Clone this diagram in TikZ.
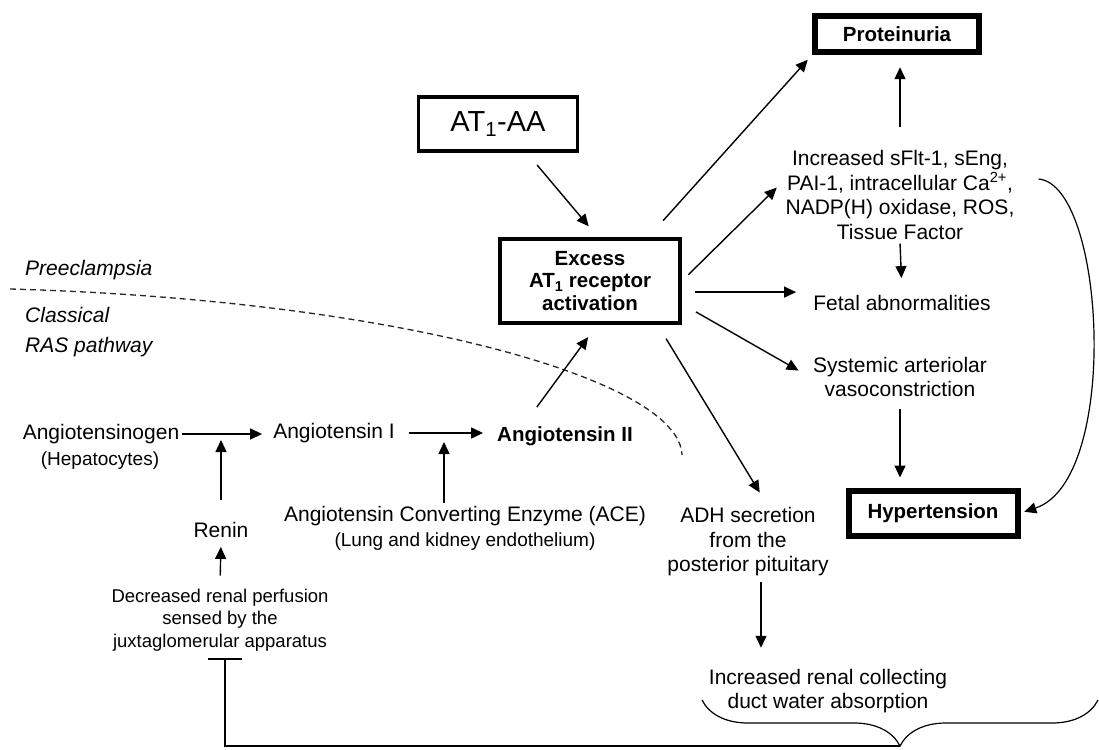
\documentclass[tikz,border=0pt]{standalone}
\usepackage{fontspec}
\setmainfont{Liberation Sans}
\usetikzlibrary{arrows.meta,decorations.pathreplacing}

\tikzstyle{box} = [rectangle, draw=black, align=center, font=\bfseries\fontsize{20.5}{22.5}\selectfont]
\tikzstyle{txt} = [align=center, inner sep=3pt, font=\fontsize{21}{24.5}\selectfont]
\tikzstyle{smalltxt} = [align=center, inner sep=3pt, font=\fontsize{19}{22.5}\selectfont]
\tikzstyle{note} = [anchor=west, align=left, inner sep=0pt, font=\itshape\fontsize{21}{30}\selectfont]
\tikzstyle{arrow} = [line width=1.4pt, -{Triangle[length=12pt, width=11pt]}]
\tikzstyle{inhibit} = [line width=1.4pt, -{Bar[width=34pt]}]
\tikzstyle{divider} = [line width=1.3pt, dash pattern=on 6pt off 4pt, black!85]

\begin{document}
\begin{tikzpicture}[x=1pt, y=-1pt]
  \useasboundingbox (0,0) rectangle (1099,749);

  % boxes
  \node (AT1-AA) [box, line width=3.5pt, minimum width=159pt, minimum height=54pt, font=\fontsize{29}{32}\selectfont] at (498,124) {AT\textsubscript{1}-AA};
  \node (Excess Activation) [box, line width=4pt, minimum width=180pt, minimum height=84pt] at (590,281) {Excess\\AT\textsubscript{1} receptor\\activation};
  \node (Proteinuria) [box, line width=6.5pt, minimum width=164pt, minimum height=36pt] at (897,34) {Proteinuria};
  \node (Hypertension) [box, line width=6pt, minimum width=169pt, minimum height=45pt] at (933,513) {Hypertension};

  % preeclampsia effects
  \node (Increased Factors) [txt] at (900,195) {Increased sFlt-1, sEng,\\PAI-1, intracellular Ca\textsuperscript{2+},\\NADP(H) oxidase, ROS,\\Tissue Factor};
  \node (Fetal Abnormalities) [txt] at (902,303) {Fetal abnormalities};
  \node (Vasoconstriction) [txt] at (900,377) {Systemic arteriolar\\vasoconstriction};
  \node (ADH Secretion) [txt] at (748,542) {ADH secretion\\from the\\posterior pituitary};
  \node (Water Absorption) [txt] at (828,691) {Increased renal collecting\\duct water absorption};

  % classical RAS pathway
  \node (Angiotensinogen) [txt] at (101,434) {Angiotensinogen};
  \node (Hepatocytes) [smalltxt] at (100,461) {(Hepatocytes)};
  \node (Angiotensin I) [txt] at (334,433) {Angiotensin I};
  \node (Angiotensin II) [txt, font=\bfseries\fontsize{20.5}{24.5}\selectfont] at (565,436) {Angiotensin II};
  \node (ACE) [txt] at (465,516) {Angiotensin Converting Enzyme (ACE)};
  \node (Endothelium) [smalltxt] at (465,542) {(Lung and kidney endothelium)};
  \node (Renin) [txt] at (221,530) {Renin};
  \node (Renal Perfusion) [smalltxt, font=\fontsize{18.5}{22.5}\selectfont] at (220,620) {Decreased renal perfusion\\sensed by the\\juxtaglomerular apparatus};

  \node (Preeclampsia) [note] at (25,270) {Preeclampsia};
  \node (Classical RAS) [note] at (25,332) {Classical\\RAS pathway};

  \coordinate (Dash Start) at (10,289);
  \coordinate (Dash End) at (682,455);
  \coordinate (Brace Left) at (702,700);
  \coordinate (Brace Right) at (1098,700);
  \coordinate (Brace Tip) at (900,746);

  \draw [divider] (Dash Start) .. controls (400,300) and (680,380) .. (Dash End);

  % arrows
  \draw [arrow, shorten <=16pt, shorten >=14pt] (AT1-AA.-45) -- (Excess Activation.80);
  \draw [arrow, shorten <=22pt, shorten >=6pt] (Excess Activation.37) -- (Proteinuria.south west);
  \draw [arrow, shorten <=20pt, shorten >=12pt] (Increased Factors.north) -- (Increased Factors.north |- Proteinuria.south);
  \draw [arrow, shorten <=9pt, shorten >=8pt] (Excess Activation.east) -- ([yshift=13pt]Increased Factors.west);
  \draw [arrow, shorten <=1pt, shorten >=14pt] (Increased Factors.south) -- (Fetal Abnormalities.north);
  \draw [arrow, shorten <=13pt, shorten >=14pt] (Excess Activation.east |- Fetal Abnormalities.north west) -- (Fetal Abnormalities.north west);
  \draw [arrow, shorten <=16pt, shorten >=13pt] (Excess Activation.-14) -- (Vasoconstriction.west);
  \draw [arrow, shorten <=9pt, shorten >=10pt] (Vasoconstriction.south) -- (Vasoconstriction.south |- Hypertension.north);
  \draw [arrow, line width=1.2pt, shorten >=4pt] ([xshift=21pt,yshift=16pt]Increased Factors.east) .. controls +(67,6) and +(100,-33) .. (Hypertension.east);
  \draw [arrow, shorten <=16pt, shorten >=14pt] (Excess Activation.-33) -- ([xshift=19pt]ADH Secretion.north);
  \draw [arrow, shorten <=3pt, shorten >=18pt] ([xshift=13pt]ADH Secretion.south) -- ([xshift=13pt]ADH Secretion.south |- Water Absorption.north);

  \draw [arrow, shorten >=8pt] (Angiotensinogen.east) -- (Angiotensinogen.east -| Angiotensin I.west);
  \draw [arrow, shorten <=11pt, shorten >=11pt] (Angiotensin I.east) -- (Angiotensin I.east -| Angiotensin II.west);
  \draw [arrow, shorten >=9pt] ([xshift=-21pt]ACE.north) -- ([xshift=-21pt]ACE.north |- Angiotensin I.east);
  \draw [arrow, shorten <=10pt, shorten >=6pt] (Renal Perfusion.north) -- (Renin.south);
  \draw [arrow, shorten <=19pt, shorten >=6pt] (Renin.north) -- (Renin.north |- Angiotensinogen.east);
  \draw [arrow, shorten <=20pt, shorten >=15pt] ([xshift=-40pt]Angiotensin II.north) -- ([xshift=7pt]Excess Activation.south);

  % feedback
  \draw [line width=1.2pt, decorate, decoration={brace, mirror, amplitude=46pt, aspect=0.5}] (Brace Left) -- (Brace Right);
  \draw [inhibit, shorten >=4pt] (Brace Tip) -| ([xshift=5pt]Renal Perfusion.south);
\end{tikzpicture}
\end{document}
